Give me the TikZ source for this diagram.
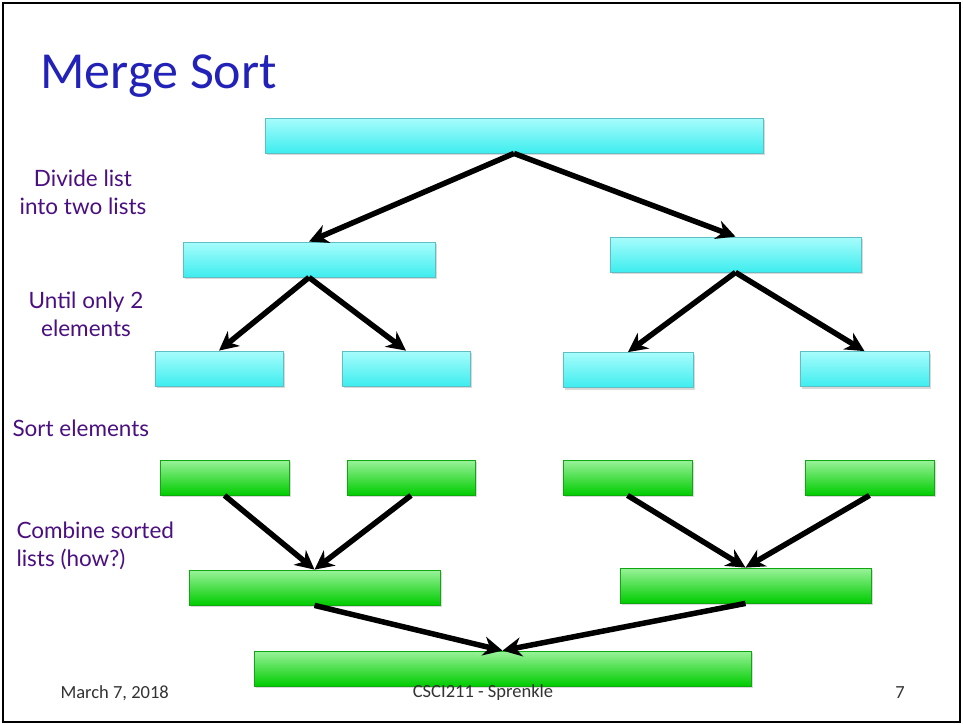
\documentclass[tikz,border=0pt]{standalone}
\usepackage{fontspec}
\setmainfont{Carlito}
\newfontfamily\labelfont{Lato}
\usepackage{tikz}
\usetikzlibrary{arrows.meta,shadows}

\definecolor{titleblue}{HTML}{2222B8}
\definecolor{labelpurple}{HTML}{4A0F80}
\definecolor{cyantop}{HTML}{A8FCFC}
\definecolor{cyanbot}{HTML}{3EEDEF}
\definecolor{cyanline}{HTML}{5DBFC4}
\definecolor{greentop}{HTML}{9AF29A}
\definecolor{greenbot}{HTML}{00CC00}
\definecolor{greenline}{HTML}{10A810}

\begin{document}
\begin{tikzpicture}[
    x=1pt, y=-1pt,
    bar/.style={rectangle, minimum height=35pt, inner sep=0pt,
                drop shadow={opacity=0.3, shadow xshift=1.5pt, shadow yshift=-2pt}},
    cyanbar/.style={bar, draw=cyanline, line width=0.8pt,
                    top color=cyantop, bottom color=cyanbot},
    greenbar/.style={bar, draw=greenline, line width=0.8pt,
                     top color=greentop, bottom color=greenbot},
    step label/.style={text=labelpurple, font=\labelfont\fontsize{22.5}{28}\selectfont},
    foot/.style={text=black!80, font=\fontsize{18.5}{20}\selectfont},
    arr/.style={-{Stealth[length=19pt,width=19pt,inset=6pt]}, line width=5.5pt},
  ]
    \useasboundingbox (0,0) rectangle (963,724);
    \draw[line width=2pt] (3,3) rectangle (960,722);

    \node[anchor=base west, text=titleblue, font=\fontsize{52}{60}\selectfont] (title) at (37,88) {Merge Sort};

    % splitting, cyan
    \node[cyanbar, minimum width=498pt] (top) at (514,135.5) {};
    \node[cyanbar, minimum width=252pt] (L) at (309,259.5) {};
    \node[cyanbar, minimum width=251pt] (R) at (735.5,254.5) {};
    \node[cyanbar, minimum width=128pt] (LL) at (219,368.5) {};
    \node[cyanbar, minimum width=128pt] (LR) at (406,368.5) {};
    \node[cyanbar, minimum width=130pt] (RL) at (628,370) {};
    \node[cyanbar, minimum width=129pt] (RR) at (864.5,369) {};

    % merging, green
    \node[greenbar, minimum width=129pt] (sLL) at (224.5,477.5) {};
    \node[greenbar, minimum width=128pt] (sLR) at (411,477.5) {};
    \node[greenbar, minimum width=129pt] (sRL) at (627.5,477.5) {};
    \node[greenbar, minimum width=129pt] (sRR) at (869.5,477.5) {};
    \node[greenbar, minimum width=251pt] (mL) at (314.5,587.5) {};
    \node[greenbar, minimum width=251pt] (mR) at (745.5,585.5) {};
    \node[greenbar, minimum width=497pt] (final) at (502.5,668.5) {};

    \draw[arr] (top.south) -- (L.north);
    \draw[arr] (top.south) -- (R.north);
    \draw[arr] (L.south) -- (LL.north);
    \draw[arr] (L.south) -- (LR.north);
    \draw[arr] (R.south) -- (RL.north);
    \draw[arr] (R.south) -- (RR.north);
    \draw[arr] (sLL.south) -- (mL.north);
    \draw[arr] (sLR.south) -- (mL.north);
    \draw[arr] (sRL.south) -- (mR.north);
    \draw[arr] (sRR.south) -- (mR.north);
    \draw[arr] (mL.south) -- (final.north);
    \draw[arr] (mR.south) -- (final.north);

    % step labels
    \node[step label, align=center] (divide) at (83,192) {Divide list\\into two lists};
    \node[step label, align=center] (until) at (86,314) {Until only 2\\elements};
    \node[step label, anchor=west] (sortel) at (9,428) {Sort elements};
    \node[step label, align=left, anchor=west] (combine) at (13,546) {Combine sorted\\lists (how?)};

    % footer
    \node[foot, anchor=west] (date) at (57,693) {March 7, 2018};
    \node[foot] (course) at (483,693) {CSCI211 - Sprenkle};
    \node[foot] (page) at (900,693) {7};
  \end{tikzpicture}
\end{document}
